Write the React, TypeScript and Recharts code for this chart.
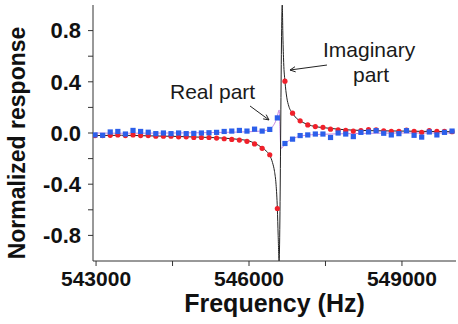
import React from 'react';
import {
  ComposedChart, Line, Scatter, XAxis, YAxis, ReferenceLine, ReferenceDot,
} from 'recharts';

// Measurement frequencies (Hz)
const freqs = [
  542980, 543129, 543278, 543427, 543576, 543725, 543874, 544023, 544172, 544321,
  544470, 544619, 544768, 544917, 545066, 545215, 545364, 545513, 545662, 545811,
  545960, 546109, 546258, 546407, 546556, 546705, 546854, 547003, 547152, 547301,
  547450, 547599, 547748, 547897, 548046, 548195, 548344, 548493, 548642, 548791,
  548940, 549089, 549238, 549387, 549536, 549685, 549834, 549983,
];

// Real part (blue squares)
const realVals = [
  -0.015, -0.018, 0.008, 0.012, -0.008, 0.02, 0.012, 0.006, -0.005, 0.0,
  -0.005, 0.0, -0.005, -0.003, 0.0, 0.002, 0.005, 0.012, 0.015, 0.02,
  0.015, 0.03, 0.015, 0.028, 0.118, -0.082, -0.048, -0.02, -0.015, -0.008,
  -0.008, -0.035, 0.0, -0.008, -0.028, 0.005, 0.008, 0.018, -0.002, -0.015,
  -0.005, 0.018, -0.018, -0.032, 0.008, -0.015, 0.005, 0.015,
];

// Imaginary part (red circles)
const imagVals = [
  -0.02, -0.02, -0.018, -0.015, -0.02, -0.015, -0.02, -0.02, -0.025, -0.025,
  -0.025, -0.03, -0.03, -0.035, -0.035, -0.035, -0.04, -0.045, -0.05, -0.055,
  -0.065, -0.085, -0.12, -0.17, -0.59, 0.405, 0.155, 0.095, 0.063, 0.05,
  0.044, 0.03, 0.024, 0.02, 0.015, 0.018, 0.026, 0.024, 0.016, 0.013,
  0.012, 0.022, 0.012, 0.006, 0.018, 0.012, 0.012, 0.01,
];

// Fit curve for imaginary part (black line)
const imagFitF = [
  542980, 543500, 544000, 544500, 545000, 545500, 545800, 546000, 546109, 546258,
  546350, 546407, 546460, 546500, 546530, 546556, 546572, 546590, 546652, 546665,
  546680, 546705, 546740, 546780, 546854, 546930, 547003, 547152, 547301, 547500,
  547800, 548200, 548800, 549400, 549983,
];
const imagFitV = [
  -0.02, -0.018, -0.022, -0.026, -0.032, -0.04, -0.05, -0.062, -0.08, -0.115,
  -0.145, -0.175, -0.23, -0.3, -0.4, -0.59, -0.8, -1.0, 1.0, 0.75,
  0.55, 0.405, 0.28, 0.21, 0.155, 0.115, 0.095, 0.066, 0.05, 0.04,
  0.028, 0.02, 0.016, 0.013, 0.01,
];

// Fit curve for real part (violet line)
const realFitF = [
  542980, 543500, 544500, 545500, 546000, 546258, 546407, 546480, 546530, 546560,
  546592, 546606, 546618, 546630, 546660, 546705, 546780, 546854, 547003, 547300,
  548000, 549000, 549983,
];
const realFitV = [
  0.0, -0.002, 0.0, 0.005, 0.01, 0.016, 0.03, 0.06, 0.1, 0.14,
  0.18, 0.05, -0.08, -0.12, -0.11, -0.085, -0.06, -0.045, -0.025, -0.012,
  -0.005, 0.0, 0.0,
];

const xTicks = [543000, 544500, 546000, 547500, 549000];
const yTicks = [-0.8, -0.6, -0.4, -0.2, 0, 0.2, 0.4, 0.6, 0.8];

const realPts = freqs.map((f, i) => ({ f, v: realVals[i] }));
const imagPts = freqs.map((f, i) => ({ f, v: imagVals[i] }));
const imagFit = imagFitF.map((f, i) => ({ f, v: imagFitV[i] }));
const realFit = realFitF.map((f, i) => ({ f, v: realFitV[i] }));

const FONT = 'Liberation Sans, Arial, Helvetica, sans-serif';

const RedDot = (p: any) => <circle cx={p.cx} cy={p.cy} r={2.6} fill="#f0202a" />;
const BlueSq = (p: any) => <rect x={p.cx - 2.6} y={p.cy - 2.6} width={5.2} height={5.2} fill="#2c5fea" />;

const Arrow = (p: any) => {
  const { x1, y1, x2, y2 } = p;
  const ang = Math.atan2(y2 - y1, x2 - x1);
  const L = 6;
  const a1 = ang + Math.PI - 0.45;
  const a2 = ang + Math.PI + 0.45;
  return (
    <g>
      <line x1={x1} y1={y1} x2={x2} y2={y2} stroke="#222" strokeWidth={1} />
      <polyline
        points={`${x2 + L * Math.cos(a1)},${y2 + L * Math.sin(a1)} ${x2},${y2} ${x2 + L * Math.cos(a2)},${y2 + L * Math.sin(a2)}`}
        fill="none" stroke="#222" strokeWidth={1}
      />
    </g>
  );
};

const annText = (txt: string) => (props: any) => {
  const vb = props.viewBox || {};
  return (
    <text x={vb.x} y={vb.y} fill="#1a1a1a" fontFamily={FONT} fontSize={21} textAnchor="start">
      {txt}
    </text>
  );
};

export default function App() {
  return (
    <div style={{ position: 'absolute', left: 0, top: 0, background: '#fff' }}>
      <ComposedChart width={458} height={324} margin={{ top: 5, right: 2, bottom: 0, left: 0 }}>
        <XAxis
          dataKey="f" type="number" domain={[542940, 550060]} allowDataOverflow
          ticks={xTicks} tickSize={5} tickMargin={5}
          tickFormatter={(v: number) => (v % 3000 === 0 ? String(v) : '')}
          tick={{ fill: '#111', fontSize: 21, fontWeight: 'bold', fontFamily: FONT }}
          axisLine={{ stroke: '#333' }} tickLine={{ stroke: '#333' }}
          height={63}
          label={{
            content: (p: any) => {
              const vb = p.viewBox;
              return (
                <text x={vb.x + vb.width / 2} y={vb.y + 51} textAnchor="middle" fill="#111"
                  fontFamily={FONT} fontWeight="bold" fontSize={25}>Frequency (Hz)</text>
              );
            },
          }}
        />
        <XAxis xAxisId="top" orientation="top" type="number" domain={[542940, 550060]}
          tick={false} tickLine={false} height={0} axisLine={{ stroke: '#aaa' }} />
        <YAxis
          dataKey="v" type="number" domain={[-1, 1]} allowDataOverflow
          ticks={yTicks} tickSize={5} tickMargin={7} width={93}
          tickFormatter={(v: number) => (Math.abs(Math.round(v * 10)) % 4 === 0 ? v.toFixed(1) : '')}
          tick={{ fill: '#111', fontSize: 22, fontWeight: 'bold', fontFamily: FONT }}
          axisLine={{ stroke: '#333' }} tickLine={{ stroke: '#333' }}
          label={{
            content: () => (
              <text x={25} y={143} transform="rotate(-90 25 143)" textAnchor="middle" fill="#111"
                fontFamily={FONT} fontWeight="bold" fontSize={23}>Normalized response</text>
            ),
          }}
        />
        <YAxis yAxisId="right" orientation="right" type="number" domain={[-1, 1]}
          tick={false} tickLine={false} width={0} axisLine={{ stroke: '#999' }} />

        <Line data={realFit} dataKey="v" type="monotone" stroke="#c586e0" strokeWidth={1}
          dot={false} isAnimationActive={false} />
        <Line data={imagFit} dataKey="v" type="monotone" stroke="#222" strokeWidth={1}
          dot={false} isAnimationActive={false} />
        <Scatter data={imagPts} dataKey="v" shape={RedDot} isAnimationActive={false} />
        <Scatter data={realPts} dataKey="v" shape={BlueSq} isAnimationActive={false} />

        <ReferenceLine segment={[{ x: 546020, y: 0.211 }, { x: 546392, y: 0.102 }]} shape={Arrow} />
        <ReferenceLine segment={[{ x: 547529, y: 0.531 }, { x: 546804, y: 0.492 }]} shape={Arrow} />
        <ReferenceDot x={544450} y={0.266} r={0} stroke="none" label={{ content: annText('Real part') }} />
        <ReferenceDot x={547451} y={0.594} r={0} stroke="none" label={{ content: annText('Imaginary') }} />
        <ReferenceDot x={548039} y={0.398} r={0} stroke="none" label={{ content: annText('part') }} />
      </ComposedChart>
    </div>
  );
}
